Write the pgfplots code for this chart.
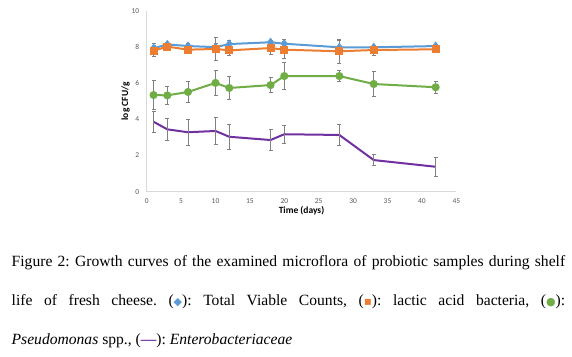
\documentclass[border=0pt]{standalone}
\usepackage{pgfplots}
\pgfplotsset{compat=1.18}
\usepackage{fontspec}
\setmainfont{Liberation Serif}
\newfontfamily\calibri{Carlito}
\newfontfamily\symb{DejaVu Sans}
\definecolor{tvc}{RGB}{91,155,213}
\definecolor{lab}{RGB}{237,125,49}
\definecolor{pse}{RGB}{112,173,71}
\definecolor{ent}{RGB}{112,48,160}
\definecolor{tickgray}{RGB}{89,89,89}
\definecolor{axgray}{RGB}{217,217,217}
\definecolor{errgray}{RGB}{128,128,128}
\begin{document}
\frenchspacing
\begin{tikzpicture}[x=1pt,y=1pt]
\path[use as bounding box] (0,0) rectangle (572,356);
\begin{axis}[
  at={(146.7pt,164.3pt)}, anchor=south west,
  scale only axis, width=309.6pt, height=180.7pt,
  xmin=0, xmax=45, ymin=0, ymax=10,
  xtick={0,5,...,45}, ytick={0,2,...,10},
  axis x line*=bottom, axis y line*=left,
  axis line style={axgray, line width=0.8pt, -},
  major tick length=0pt,
  /pgf/number format/assume math mode=true,
  tick label style={font=\calibri\fontsize{7.5}{8}\selectfont, text=tickgray},
  xticklabel style={yshift=-3pt},
  yticklabel style={xshift=-4pt},
  xlabel={\textbf{Time (days)}},
  ylabel={\textbf{log CFU/g}},
  label style={font=\calibri\fontsize{9.5}{11}\selectfont, text=black},
  xlabel style={yshift=4pt},
  ylabel style={yshift=-5pt},
  error bars/y dir=both, error bars/y explicit,
  error bars/error bar style={errgray, line width=0.8pt},
  error bars/error mark options={rotate=90, mark size=2pt, errgray, line width=0.8pt},
  clip=false,
]
\addplot[tvc, line width=2pt, mark=diamond*, mark size=3pt, mark options={solid}] coordinates {
(1,7.94) +- (0,0.25)
(3,8.15) +- (0,0.1)
(6,8.06) +- (0,0.15)
(10,8.00) +- (0,0.2)
(12,8.17) +- (0,0.2)
(18,8.27) +- (0,0.1)
(20,8.19) +- (0,0.24)
(28,7.99) +- (0,0.4)
(33,7.99) +- (0,0.13)
(42,8.06) +- (0,0.1)
};
\addplot[lab, line width=2pt, mark=square*, mark size=3pt] coordinates {
(1,7.80) +- (0,0.3)
(3,8.03) +- (0,0.12)
(6,7.86) +- (0,0.2)
(10,7.90) +- (0,0.63)
(12,7.82) +- (0,0.3)
(18,7.95) +- (0,0.35)
(20,7.86) +- (0,0.48)
(28,7.77) +- (0,0.65)
(33,7.84) +- (0,0.28)
(42,7.88) +- (0,0.08)
};
\addplot[pse, line width=2pt, mark=*, mark size=3pt] coordinates {
(1,5.35) +- (0,0.8)
(3,5.33) +- (0,0.48)
(6,5.52) +- (0,0.6)
(10,6.02) +- (0,0.67)
(12,5.74) +- (0,0.65)
(18,5.90) +- (0,0.42)
(20,6.40) +- (0,0.75)
(28,6.40) +- (0,0.3)
(33,5.96) +- (0,0.69)
(42,5.78) +- (0,0.32)
};
\addplot[ent, line width=2pt, mark=none] coordinates {
(1,3.87) +- (0,0.6)
(3,3.45) +- (0,0.6)
(6,3.29) +- (0,0.72)
(10,3.36) +- (0,0.74)
(12,3.04) +- (0,0.69)
(18,2.86) +- (0,0.6)
(20,3.18) +- (0,0.5)
(28,3.14) +- (0,0.6)
(33,1.75) +- (0,0.3)
(42,1.38) +- (0,0.52)
};
\end{axis}
\node[anchor=base west, text width=553.5pt, align=justify, inner sep=0pt,
  font=\fontsize{15.6}{39}\selectfont] at (11.5,89.5) {%
Figure 2: Growth curves of the examined microflora of probiotic samples during shelf\linebreak
life of fresh cheese. ({\symb\fontsize{11}{10}\selectfont\textcolor{tvc}{◆}}): Total Viable Counts, ({\symb\fontsize{12}{10}\selectfont\textcolor{lab}{▪}}): lactic acid bacteria, ({\symb\fontsize{11}{10}\selectfont\textcolor{pse}{●}}):\linebreak
\textit{Pseudomonas} spp., ({\color{ent}\textbf{—}}): \textit{Enterobacteriaceae}};
\end{tikzpicture}
\end{document}
